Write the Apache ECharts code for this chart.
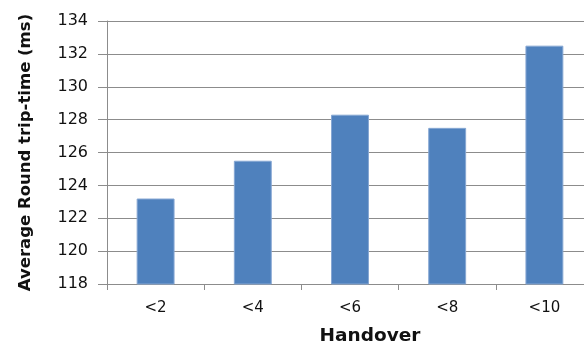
<!DOCTYPE html>
<html>
<head>
<meta charset="utf-8">
<script src="https://cdn.jsdelivr.net/npm/echarts@6/dist/echarts.min.js"></script>
<style>
  html, body { margin: 0; padding: 0; background: #fff; }
  #chart { width: 584px; height: 345px; }
</style>
</head>
<body>
<div id="chart"></div>
<script>
// Handover buckets and their mean round-trip time
const categories = ['<2', '<4', '<6', '<8', '<10'];
const rttValues = [123.2, 125.5, 128.3, 127.5, 132.5];
const yMin = 118;
const yMax = 134;
const yStep = 2;

const chart = echarts.init(document.getElementById('chart'), null, { renderer: 'canvas' });
const font = '"DejaVu Sans", Verdana, sans-serif';
const gridColor = '#8c8c8c';
const textColor = '#111111';

chart.setOption({
  animation: false,
  backgroundColor: '#ffffff',
  grid: {
    left: 107, right: -9, top: 21, bottom: 61,
    containLabel: false,
    outerBoundsMode: 'none'
  },
  xAxis: {
    type: 'category',
    data: categories,
    name: 'Handover',
    nameLocation: 'middle',
    nameGap: 43,
    nameTextStyle: {
      fontFamily: font, fontWeight: 'bold', fontSize: 18.5, color: textColor,
      padding: [0, 0, 0, 40]
    },
    axisLine: { show: true, lineStyle: { color: gridColor, width: 1 } },
    axisTick: { show: true, length: 6, lineStyle: { color: gridColor } },
    axisLabel: { fontFamily: font, fontSize: 15, color: textColor, margin: 17 }
  },
  yAxis: {
    type: 'value',
    min: yMin,
    max: yMax,
    interval: yStep,
    name: 'Average Round trip-time (ms)',
    nameLocation: 'middle',
    nameGap: 73,
    nameTextStyle: { fontFamily: font, fontWeight: 'bold', fontSize: 16.5, color: textColor },
    axisLine: { show: true, lineStyle: { color: gridColor, width: 1 } },
    axisTick: { show: true, length: 9, lineStyle: { color: gridColor } },
    axisLabel: { fontFamily: font, fontSize: 16, color: textColor, margin: 19 },
    splitLine: { show: true, lineStyle: { color: gridColor, width: 1 } }
  },
  series: [{
    type: 'bar',
    data: rttValues,
    barWidth: '39%',
    itemStyle: { color: '#4f81bd', borderColor: '#86a7d3', borderWidth: 1 }
  }]
});
</script>
</body>
</html>
